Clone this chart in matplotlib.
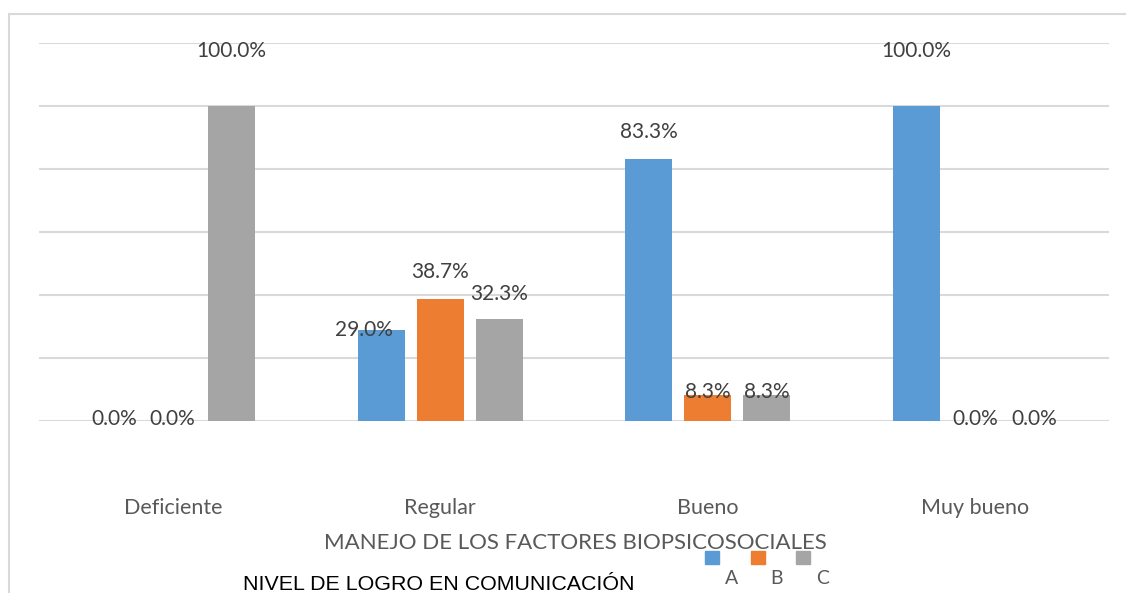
import numpy as np
import matplotlib.pyplot as plt
from matplotlib.patches import Rectangle

# -------------------------------
# Data
# -------------------------------
categories = ["Deficiente", "Regular", "Bueno", "Muy bueno"]
series_names = ["A", "B", "C"]
values_a = [0.0, 29.0, 83.3, 100.0]
values_b = [0.0, 38.7, 8.3, 0.0]
values_c = [100.0, 32.3, 8.3, 0.0]

x_title = "MANEJO DE LOS FACTORES BIOPSICOSOCIALES"
bottom_note = "NIVEL DE LOGRO EN COMUNICACIÓN"

# -------------------------------
# Style
# -------------------------------
colors = ["#5B9BD5", "#ED7D31", "#A5A5A5"]
grid_color = "#D9D9D9"
W, H = 1126, 593
bar_w = 0.176
bar_step = 0.22

# label offsets (dx, dy) in pixels from the top of each bar, as placed in the original
label_offsets = [
    [(0, 2), (-17, 0), (0, 27), (0, 55)],
    [(0, 2), (0, 27), (0, 3), (0, 2)],
    [(0, 55), (0, 25), (0, 3), (0, 2)],
]

plt.rcParams["font.family"] = ["Lato", "DejaVu Sans"]

fig = plt.figure(figsize=(W / 100, H / 100), dpi=100)
ax = fig.add_axes([39 / W, (H - 421) / H, (1109 - 39) / W, (421 - 43) / H])

x = np.arange(len(categories))
all_values = [values_a, values_b, values_c]
for i, (vals, col) in enumerate(zip(all_values, colors)):
    pos = x + (i - 1) * bar_step
    ax.bar(pos, vals, width=bar_w, color=col, zorder=3)
    for j, (px, v) in enumerate(zip(pos, vals)):
        dx, dy = label_offsets[i][j]
        ax.annotate(f"{v:.1f}%", (px, v), xytext=(dx * 0.72, dy * 0.72),
                    textcoords="offset points", ha="center", va="center",
                    fontsize=15, color="#404040", zorder=4)

ax.set_xlim(-0.5, len(categories) - 0.5)
ax.set_ylim(0, 120)
ax.set_yticks(np.arange(0, 121, 20))
ax.set_yticklabels([])
ax.grid(axis="y", color=grid_color, linewidth=1.5, zorder=0)
ax.tick_params(axis="both", length=0)
ax.set_xticks(x)
ax.set_xticklabels(categories, fontsize=15.5, color="#595959")
ax.tick_params(axis="x", pad=55.5)
for s in ax.spines.values():
    s.set_visible(False)

# axis title
fig.text(575 / W, 1 - 543 / H, x_title, ha="center", va="center",
         fontsize=16, color="#595959")

# legend (markers above, letters below, as in the original)
sq_x = [705, 751, 796]
lab_x = [732, 777, 823]
for name, col, sx, lx in zip(series_names, colors, sq_x, lab_x):
    fig.patches.append(Rectangle((sx / W, 1 - 564 / H), 14 / W, 13 / H,
                                 transform=fig.transFigure, color=col))
    fig.text(lx / W, 1 - 578 / H, name, ha="center", va="center",
             fontsize=14, color="#595959")

fig.text(439 / W, 1 - 584 / H, bottom_note, ha="center", va="center",
         fontsize=15.4, color="black", family=["Liberation Sans", "DejaVu Sans"])

# chart frame
fig.patches.append(Rectangle((9 / W, -0.1), 1.2, 1.1 - 14 / H, transform=fig.transFigure,
                             fill=False, edgecolor=grid_color, linewidth=1.5))

fig.savefig("out.png", dpi=100)
